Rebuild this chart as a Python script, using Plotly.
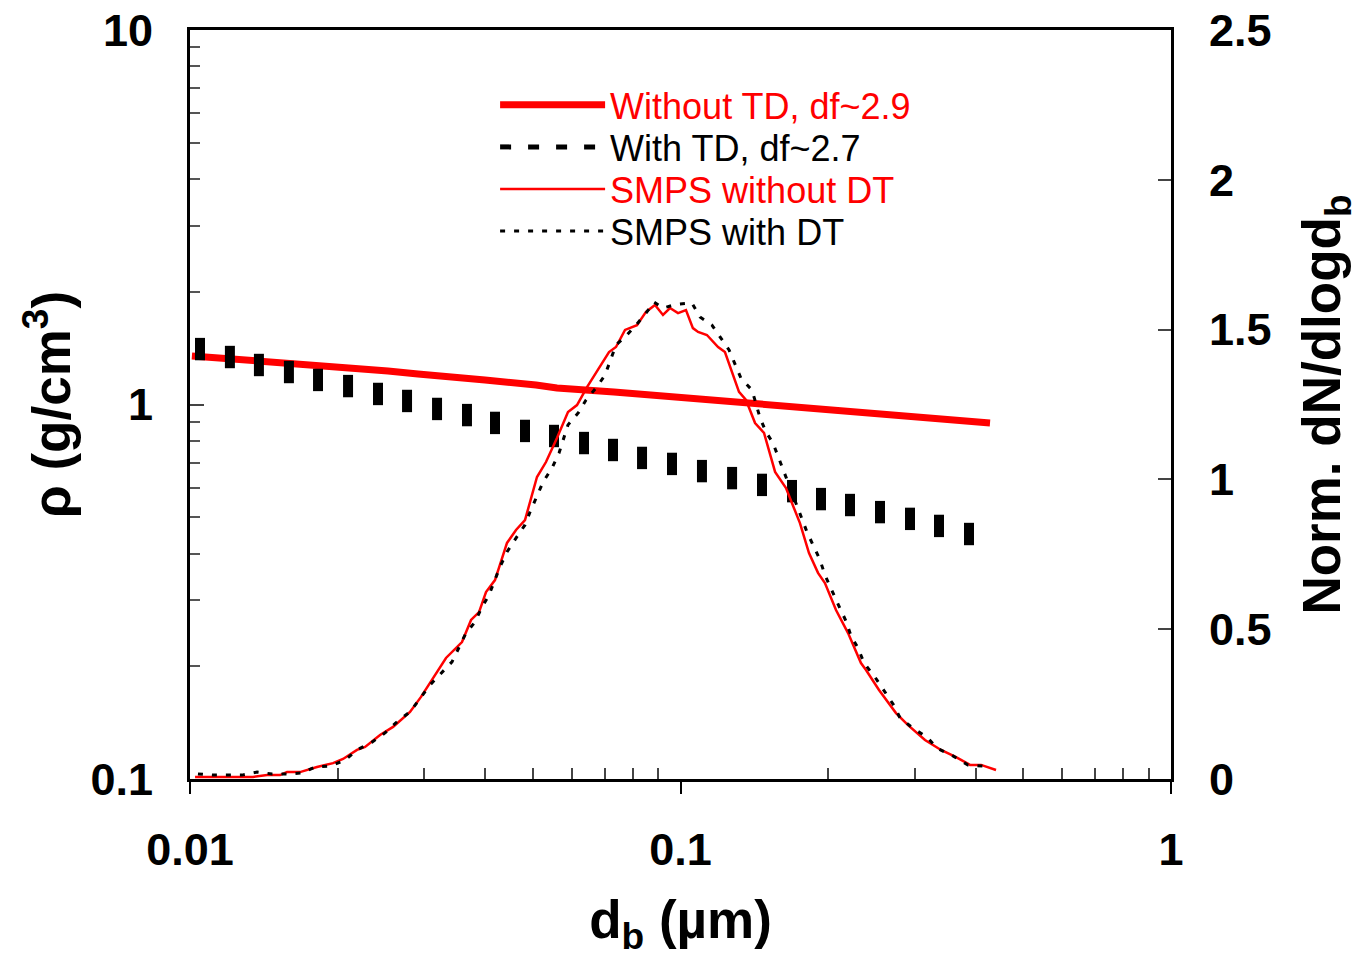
import plotly.graph_objects as go

# ---- data ----
# Effective density without thermodenuder (df ~ 2.9)
d_notd = [0.01009, 0.01141, 0.01422, 0.01637, 0.01911, 0.0220, 0.02533, 0.02916, 0.03357, 0.03995,
          0.05075, 0.0560, 0.07318, 0.08666, 0.1026, 0.1170, 0.1386, 0.1752, 0.2216, 0.2803, 0.3543, 0.4276]
rho_notd = [1.348, 1.331, 1.315, 1.291, 1.267, 1.244, 1.229, 1.206, 1.191, 1.163,
            1.127, 1.107, 1.080, 1.060, 1.047, 1.028, 1.009, 0.985, 0.955, 0.932, 0.909, 0.893]

# Effective density with thermodenuder (df ~ 2.7)
d_td = [0.01048, 0.01206, 0.01382, 0.01591, 0.01824, 0.0210, 0.02417, 0.0277, 0.03189, 0.0367,
        0.04186, 0.04819, 0.05522, 0.06358, 0.07284, 0.08348, 0.09609, 0.1106, 0.1274, 0.1466,
        0.1688, 0.1934, 0.2216, 0.2551, 0.2937, 0.3365, 0.3874]
rho_td = [1.406, 1.339, 1.275, 1.221, 1.163, 1.120, 1.067, 1.022, 0.973, 0.937,
          0.893, 0.850, 0.824, 0.789, 0.756, 0.720, 0.694, 0.664, 0.636, 0.610,
          0.587, 0.559, 0.539, 0.516, 0.495, 0.474, 0.451]

# SMPS size distribution without DT (normalised)
d_smps_no = [0.01024, 0.01344, 0.01436, 0.01526, 0.01577, 0.01676, 0.01815, 0.01957, 0.02051, 0.0219,
             0.02275, 0.0244, 0.02594, 0.02809, 0.02958, 0.03326, 0.03585, 0.03741, 0.03884, 0.04013,
             0.04186, 0.04429, 0.0462, 0.04819, 0.05098, 0.05318, 0.0560, 0.05897, 0.06152, 0.06448,
             0.07149, 0.07388, 0.07707, 0.08152, 0.08504, 0.08872, 0.09211, 0.09519, 0.09883, 0.1026,
             0.1060, 0.1086, 0.1132, 0.1193, 0.1232, 0.1316, 0.1360, 0.1419, 0.1480, 0.1559,
             0.1641, 0.1752, 0.1828, 0.1907, 0.1970, 0.2075, 0.2196, 0.2333, 0.2389, 0.2539,
             0.2750, 0.2910, 0.3151, 0.3397, 0.3646, 0.3893, 0.4100, 0.4398]
n_smps_no = [0.007, 0.007, 0.013, 0.013, 0.023, 0.023, 0.040, 0.053, 0.067, 0.097,
             0.107, 0.147, 0.174, 0.224, 0.274, 0.404, 0.457, 0.531, 0.557, 0.624,
             0.664, 0.788, 0.831, 0.864, 1.008, 1.058, 1.138, 1.225, 1.248, 1.308,
             1.425, 1.442, 1.499, 1.515, 1.559, 1.582, 1.549, 1.572, 1.555, 1.565,
             1.505, 1.492, 1.482, 1.442, 1.425, 1.292, 1.265, 1.188, 1.155, 1.025,
             0.971, 0.854, 0.754, 0.688, 0.654, 0.564, 0.487, 0.387, 0.364, 0.297,
             0.220, 0.180, 0.130, 0.097, 0.073, 0.047, 0.047, 0.030]

# SMPS size distribution with DT (normalised)
d_smps_dt = [0.01038, 0.01109, 0.0119, 0.01276, 0.0137, 0.0147, 0.01577, 0.01692, 0.01798, 0.01929,
             0.0207, 0.0219, 0.0235, 0.02498, 0.02656, 0.02809, 0.03086, 0.03249, 0.03421, 0.03653,
             0.03811, 0.03938, 0.0407, 0.04285, 0.04429, 0.0462, 0.04819, 0.04934, 0.05075, 0.05245,
             0.0547, 0.05654, 0.05897, 0.06209, 0.06417, 0.06725, 0.07016, 0.07388, 0.07707, 0.08115,
             0.08504, 0.08831, 0.09211, 0.09838, 0.1055, 0.1096, 0.1159, 0.1204, 0.1256, 0.1328,
             0.1399, 0.1453, 0.1494, 0.1544, 0.1626, 0.1680, 0.1761, 0.1811, 0.1872, 0.1925,
             0.1970, 0.2037, 0.2104, 0.2175, 0.2227, 0.2301, 0.2367, 0.2492, 0.2587, 0.2712,
             0.2803, 0.2992, 0.3180, 0.3333, 0.3593, 0.3855, 0.4138]
n_smps_dt = [0.017, 0.013, 0.013, 0.013, 0.023, 0.017, 0.017, 0.020, 0.040, 0.043,
             0.063, 0.097, 0.123, 0.154, 0.194, 0.224, 0.314, 0.354, 0.391, 0.487,
             0.524, 0.574, 0.614, 0.708, 0.758, 0.804, 0.848, 0.891, 0.938, 0.991,
             1.038, 1.088, 1.182, 1.225, 1.265, 1.305, 1.348, 1.449, 1.475, 1.515,
             1.555, 1.592, 1.572, 1.585, 1.589, 1.542, 1.515, 1.475, 1.432, 1.338,
             1.298, 1.205, 1.158, 1.121, 1.025, 0.965, 0.874, 0.824, 0.774, 0.731,
             0.681, 0.631, 0.577, 0.527, 0.477, 0.437, 0.387, 0.340, 0.300, 0.250,
             0.204, 0.167, 0.140, 0.103, 0.077, 0.047, 0.043]

x_tickvals = [0.01, 0.1, 1]
x_ticktext = ["0.01", "0.1", "1"]
x_minor = [0.02, 0.03, 0.04, 0.05, 0.06, 0.07, 0.08, 0.09, 0.2, 0.3, 0.4, 0.5, 0.6, 0.7, 0.8, 0.9]
y_tickvals = [0.1, 1, 10]
y_ticktext = ["0.1", "1", "10"]
y_minor = [0.2, 0.3, 0.4, 0.5, 0.6, 0.7, 0.8, 0.9, 2, 3, 4, 5, 6, 7, 8, 9]
y2_tickvals = [0, 0.5, 1, 1.5, 2, 2.5]
y2_ticktext = ["0", "0.5", "1", "1.5", "2", "2.5"]

names = ['<span style="color:#ff0000">Without TD, df~2.9</span>',
         'With TD, df~2.7',
         '<span style="color:#ff0000">SMPS without DT</span>',
         'SMPS with DT']

FONT = "Arial, Liberation Sans, sans-serif"

fig = go.Figure()
fig.add_trace(go.Scatter(x=d_notd, y=rho_notd, mode="lines", name=names[0], legend="legend",
                         line=dict(color="#ff0000", width=7)))
fig.add_trace(go.Scatter(x=[None], y=[None], mode="lines", name=names[1], legend="legend2",
                         line=dict(color="black", width=5, dash="11px,17px")))
fig.add_trace(go.Scatter(x=d_td, y=rho_td, mode="markers", showlegend=False,
                         marker=dict(symbol="line-ns", size=16, color="black",
                                     line=dict(width=10, color="black"))))
fig.add_trace(go.Scatter(x=d_smps_no, y=n_smps_no, mode="lines", name=names[2], yaxis="y2",
                         legend="legend3", line=dict(color="#ff0000", width=2.5)))
fig.add_trace(go.Scatter(x=d_smps_dt, y=n_smps_dt, mode="lines", name=names[3], yaxis="y2",
                         legend="legend4", line=dict(color="black", width=3, dash="5px,9px")))

tickfont = dict(family=FONT, size=45, color="black", weight="bold")
titlefont = dict(family=FONT, size=53, color="black", weight="bold")


def leg(yv):
    return dict(x=0.311, y=yv, xanchor="left", yanchor="middle",
                bgcolor="rgba(0,0,0,0)", font=dict(family=FONT, size=36, color="black"),
                itemwidth=105)


fig.update_layout(
    width=1359, height=957,
    margin=dict(l=190, r=188, t=30, b=178, autoexpand=False),
    paper_bgcolor="white", plot_bgcolor="white",
    showlegend=True,
    legend=leg(0.8999), legend2=leg(0.8438), legend3=leg(0.7877), legend4=leg(0.7316),
    xaxis=dict(type="log", range=[-2, 0], tickvals=x_tickvals, ticktext=x_ticktext,
               ticks="outside", ticklen=12, tickwidth=2, tickcolor="black",
               minor=dict(tickvals=x_minor, ticks="inside", ticklen=11, tickwidth=2, tickcolor="#444"),
               showline=True, linecolor="black", linewidth=3, mirror=True, automargin=False,
               showgrid=False, zeroline=False, tickfont=tickfont, ticklabelstandoff=17,
               title=dict(text="d<sub>b</sub> (µm)", font=titlefont, standoff=36)),
    yaxis=dict(type="log", range=[-1, 1], tickvals=y_tickvals, ticktext=y_ticktext,
               ticks="inside", ticklen=14, tickwidth=2, tickcolor="#444",
               minor=dict(tickvals=y_minor, ticks="inside", ticklen=10, tickwidth=2, tickcolor="#555"),
               showline=True, linecolor="black", linewidth=3, automargin=False,
               showgrid=False, zeroline=False, tickfont=tickfont, ticklabelstandoff=25,
               title=dict(text="ρ (g/cm<sup>3</sup>)", font=titlefont, standoff=3)),
    yaxis2=dict(overlaying="y", side="right", range=[0, 2.5], tickvals=y2_tickvals, ticktext=y2_ticktext,
                ticks="inside", ticklen=13, tickwidth=2, tickcolor="#444",
                showline=True, linecolor="black", linewidth=3, automargin=False,
                showgrid=False, zeroline=False, tickfont=tickfont, ticklabelstandoff=26,
                title=dict(text="Norm. dN/dlogd<sub>b</sub>", font=titlefont, standoff=35)),
)

fig.write_html("out.html")
